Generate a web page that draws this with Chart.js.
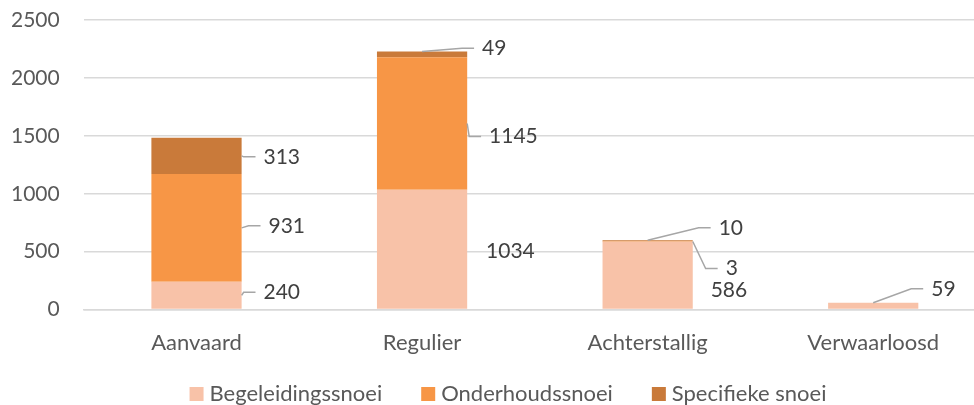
<!DOCTYPE html>
<html>
<head>
<meta charset="utf-8">
<script src="https://cdn.jsdelivr.net/npm/chart.js@4/dist/chart.umd.min.js"></script>
<style>
  html, body { margin: 0; padding: 0; background: #fff; overflow: hidden; }
  #wrap { width: 974px; height: 405px; overflow: hidden; }
</style>
</head>
<body>
<div id="wrap"><canvas id="snoeiChart" width="1020" height="405"></canvas></div>
<script>
// categories and series
var categories = ["Aanvaard", "Regulier", "Achterstallig", "Verwaarloosd"];
var begeleiding = [240, 1034, 586, 59];
var onderhoud = [931, 1145, 3, 0];
var specifiek = [313, 49, 10, 0];
var yTicks = [0, 500, 1000, 1500, 2000, 2500];

// where each data label sits next to its bar (px offsets from bar centre / segment middle)
var labelPlacement = [
  [{ dx: 67, dy: -3, leader: "right" }, { dx: 64, dy: 2, leader: "none" }, { dx: 63, dy: 15, leader: "none" }, { dx: 58, dy: -17, leader: "top" }],
  [{ dx: 72, dy: -2, leader: "right" }, { dx: 67, dy: 13, leader: "right" }, { dx: 78, dy: 27, leader: "right" }, null],
  [{ dx: 67, dy: 1, leader: "right" }, { dx: 60, dy: -6, leader: "top" }, { dx: 71, dy: -13, leader: "top" }, null]
];

var calloutPlugin = {
  id: "callouts",
  afterDatasetsDraw: function (chart) {
    var ctx = chart.ctx;
    ctx.save();
    ctx.font = "21px Lato";
    ctx.textBaseline = "middle";
    ctx.textAlign = "left";
    chart.data.datasets.forEach(function (ds, i) {
      var meta = chart.getDatasetMeta(i);
      meta.data.forEach(function (el, j) {
        var v = ds.data[j];
        var p = labelPlacement[i][j];
        if (!v || !p) return;
        var mid = (el.y + el.base) / 2;
        var tx = el.x + p.dx;
        var ty = mid + p.dy;
        if (p.leader !== "none") {
          var ax, ay;
          if (p.leader === "top") {
            ax = el.x; ay = el.y;
          } else {
            ax = el.x + el.width / 2; ay = mid;
          }
          var endX = tx - 8;
          var elbowX = Math.max(ax + 2, endX - 12);
          ctx.beginPath();
          ctx.strokeStyle = "#a6a6a6";
          ctx.lineWidth = 1.5;
          ctx.moveTo(ax, ay);
          ctx.lineTo(elbowX, ty);
          ctx.lineTo(endX, ty);
          ctx.stroke();
        }
        ctx.fillStyle = "#404040";
        ctx.fillText(String(v), tx, ty);
      });
    });
    ctx.restore();
  }
};

// legend drawn at the bottom, centred like the original
var bottomLegend = {
  id: "bottomLegend",
  afterDraw: function (chart) {
    var ctx = chart.ctx;
    var box = 14, gapText = 6, gapItem = 39, y = 394;
    ctx.save();
    ctx.font = "22px Lato";
    ctx.textBaseline = "middle";
    ctx.textAlign = "left";
    var items = chart.data.datasets.map(function (ds) {
      return { text: ds.label, color: ds.backgroundColor, w: ctx.measureText(ds.label).width };
    });
    var total = items.reduce(function (s, it) { return s + box + gapText + it.w; }, 0) + gapItem * (items.length - 1);
    var x = 508 - total / 2;
    items.forEach(function (it) {
      ctx.fillStyle = it.color;
      ctx.fillRect(x, y - box / 2, box, box);
      ctx.fillStyle = "#595959";
      ctx.fillText(it.text, x + box + gapText, y);
      x += box + gapText + it.w + gapItem;
    });
    ctx.restore();
  }
};

var ctx = document.getElementById("snoeiChart").getContext("2d");
var snoeiChart = new Chart(ctx, {
  type: "bar",
  data: {
    labels: categories,
    datasets: [
      { label: "Begeleidingssnoei", data: begeleiding, backgroundColor: "#f8c2a8" },
      { label: "Onderhoudssnoei", data: onderhoud, backgroundColor: "#f79646" },
      { label: "Specifieke snoei", data: specifiek, backgroundColor: "#c97a3a" }
    ]
  },
  options: {
    responsive: false,
    animation: false,
    categoryPercentage: 1,
    barPercentage: 0.4,
    layout: { padding: { left: -13, right: 34, top: 20, bottom: 29 } },
    plugins: {
      tooltip: { enabled: false },
      legend: { display: false }
    },
    scales: {
      x: {
        stacked: true,
        grid: { display: false, drawTicks: false },
        border: { color: "#d9d9d9", width: 1.5 },
        ticks: { font: { family: "Lato", size: 22 }, color: "#595959", padding: 20 },
        afterFit: function (axis) { axis.paddingLeft = 0; axis.paddingRight = 0; }
      },
      y: {
        stacked: true,
        min: 0,
        max: 2500,
        afterBuildTicks: function (axis) {
          axis.ticks = yTicks.map(function (t) { return { value: t }; });
        },
        afterFit: function (axis) { axis.paddingTop = 0; axis.paddingBottom = 0; },
        grid: { color: "#d9d9d9", lineWidth: 1.5, drawTicks: false },
        border: { display: false },
        ticks: {
          font: { family: "Lato", size: 21 },
          color: "#595959",
          padding: 24,
          callback: function (value) { return String(value); }
        }
      }
    }
  },
  plugins: [calloutPlugin, bottomLegend]
});
</script>
</body>
</html>
